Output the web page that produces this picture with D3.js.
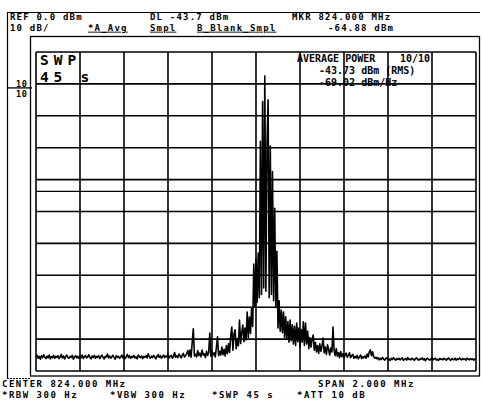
<!DOCTYPE html>
<html><head><meta charset="utf-8">
<script src="https://cdn.jsdelivr.net/npm/d3@7"></script>
<style>
html,body{margin:0;padding:0;background:#fff;}
svg{display:block;}
text{font-family:"DejaVu Sans Mono",monospace;font-weight:bold;fill:#000;}
</style></head><body>
<svg id="c" width="483" height="402"></svg>
<script>
// ---- instrument settings ----
const centerMHz = 824.0;
const spanMHz = 2.0;
const refLevel = 0;
const dbPerDiv = 10;
const numDivs = 10;
const displayLine = -43.7;
const sweepPoints = 401;

// ---- trace (dBm), 401 sweep points from 823.000 to 825.000 MHz ----
const traceLevels = [
-95.6,-95.1,-96.0,-95.4,-96.3,-95.2,-95.8,-94.9,-95.7,-96.1,-95.3,-95.9,-95.0,-96.2,-95.5,-95.8,-95.1,-96.0,-95.4,-95.7,
-95.2,-96.1,-95.6,-94.8,-95.9,-95.3,-96.2,-95.5,-95.0,-95.8,-96.0,-95.4,-95.7,-95.1,-96.3,-95.6,-95.2,-95.9,-95.4,-96.0,
-95.3,-95.8,-95.0,-96.1,-95.5,-95.2,-95.9,-95.6,-94.9,-95.7,-96.2,-95.3,-95.8,-95.1,-96.0,-95.4,-95.7,-95.2,-96.1,-95.5,
-95.0,-95.8,-96.2,-95.4,-95.6,-94.7,-95.9,-95.3,-96.0,-95.5,-95.1,-95.8,-96.3,-95.2,-95.7,-95.4,-96.0,-95.6,-95.0,-95.9,
-95.3,-96.1,-95.5,-94.8,-95.8,-95.2,-96.0,-95.4,-95.7,-95.1,-95.9,-95.6,-96.2,-95.0,-95.5,-95.8,-95.3,-96.1,-95.4,-95.7,
-95.2,-95.9,-94.6,-95.5,-96.0,-95.3,-95.8,-95.1,-95.6,-96.2,-95.4,-94.9,-95.7,-95.2,-96.0,-95.5,-95.0,-95.8,-95.3,-95.6,
-94.8,-95.9,-95.4,-95.1,-96.0,-95.5,-94.2,-95.7,-95.2,-95.8,-94.7,-95.3,-95.9,-95.0,-94.5,-95.6,
-95.2,-94.6,-93.6,-95.4,-93.4,-95.7,-91.0,-86.8,-95.3,-94.8,-95.6,-93.6,-95.2,-94.4,-95.5,-93.4,-95.0,-94.6,-95.8,-93.8,
-95.1,-94.2,-88.1,-95.4,-93.9,-95.0,-94.3,-95.6,-92.6,-89.3,-95.2,-93.8,-95.0,-92.5,-94.9,-93.2,-95.3,-92.0,-94.6,-91.5,
-94.2,-89.0,-86.2,-93.5,-88.4,-87.1,-93.0,-89.8,-92.1,-84.0,-91.4,-88.0,-85.6,-90.8,-86.5,-90.3,-81.5,-89.5,-83.1,-88.2,
-80.3,-86.0,-66.5,-80.0,
-64.88,-78.5,-63.0,-77.0,-28.0,-76.0,-15.5,-74.0,-7.5,-75.0,-29.0,-15.0,-77.0,-29.5,-76.0,-37.5,-78.0,-49.0,-80.0,-62.5,
-86.5,-78.0,-87.5,-81.0,-88.0,-81.5,-89.5,-83.0,-90.0,-84.5,-91.0,-84.0,-90.5,-85.5,-91.5,-86.0,-92.0,-85.0,-90.8,-86.5,
-92.5,-87.0,-91.0,-84.6,-92.0,-85.0,-91.5,-87.5,-93.0,-89.5,-92.5,-90.0,-88.7,-93.5,-91.0,-94.0,-92.0,-94.5,-91.5,-93.8,
-92.2,-89.7,-94.3,-92.5,-94.8,-91.8,-93.2,-95.0,-92.8,-94.0,-86.2,-93.6,-95.2,-93.0,-95.4,-94.2,-95.8,-93.9,-95.5,-94.6,
-95.9,-95.0,-94.4,-95.7,-95.1,-94.3,-95.8,-95.2,-94.8,-96.0,-95.4,-95.9,-95.1,-96.2,-95.6,-95.0,-96.1,-95.5,-95.9,-95.3,
-96.0,-94.7,-95.6,-94.0,-93.4,-95.2,-94.0,-95.5,-96.0,-95.7,
-96.2,-95.8,-96.5,-96.0,-96.4,-95.7,-96.3,-96.6,-96.1,-95.9,-96.5,-96.2,-96.7,-96.0,-96.4,-95.8,-96.3,-96.6,-96.1,-96.4,
-96.0,-96.5,-96.2,-95.9,-96.7,-96.3,-96.1,-96.6,-95.8,-96.4,-96.2,-96.5,-96.0,-96.3,-96.7,-96.1,-95.9,-96.4,-96.6,-96.2,
-96.3,-95.9,-96.5,-96.1,-96.8,-96.2,-96.0,-96.4,-96.6,-96.3,-95.8,-96.5,-96.2,-96.0,-96.6,-96.3,-96.7,-96.1,-96.4,-96.2,
-96.5,-96.0,-96.3,-96.6,-96.2,-95.9,-96.4,-96.7,-96.1,-96.3,-96.5,-96.0,-96.6,-96.2,-96.4,-95.9,-96.3,-96.5,-96.1,-96.4,
-96.2,-96.6,-96.0,-96.3,-96.5,-96.1,-96.4,-96.2,-96.6,-96.3,-96.0
];

// ---- texts ----
const headerLine1 = ["REF 0.0 dBm", "DL -43.7 dBm", "MKR 824.000 MHz"];
const headerLine2 = ["10 dB/", "*A_Avg", "Smpl", "B_Blank_Smpl", "-64.88 dBm"];
const footerLine1 = ["CENTER 824.000 MHz", "SPAN 2.000 MHz"];
const footerLine2 = ["*RBW 300 Hz", "*VBW 300 Hz", "*SWP 45 s", "*ATT 10 dB"];
const powerLines = ["AVERAGE POWER", "10/10", "-43.73 dBm (RMS)", "-69.02 dBm/Hz"];
const sweepLabel = ["SWP", "45 s"];
const scaleMarks = ["10", "10"];

// ---- drawing ----
const svg = d3.select("#c");
const plot = {left: 36, right: 476, top: 52, bottom: 371};
const fStart = centerMHz - spanMHz / 2, fStop = centerMHz + spanMHz / 2;
const x = d3.scaleLinear().domain([fStart, fStop]).range([plot.left, plot.right]);
const bottomLevel = refLevel - dbPerDiv * numDivs;
const y = d3.scaleLinear().domain([refLevel, bottomLevel]).range([plot.top, plot.bottom]);

svg.append("rect").attr("width", 483).attr("height", 402).attr("fill", "#fff");

// frames
const frame = svg.append("g").attr("fill", "none").attr("stroke", "#000");
frame.append("path").attr("d", "M7.5,379 V12.5 H480").attr("stroke-width", 1.2);
frame.append("rect").attr("x", 30.5).attr("y", 36.5).attr("width", 449).attr("height", 339.5).attr("stroke-width", 1.3);
frame.append("line").attr("x1", 7).attr("x2", 30).attr("y1", 378.5).attr("y2", 378.5).attr("stroke-width", 1).attr("stroke-dasharray", "2,1");

// grid
const vTicks = d3.range(0, numDivs + 1).map(k => fStart + k * spanMHz / numDivs);
const hTicks = d3.range(0, numDivs + 1).map(k => refLevel - k * dbPerDiv);
const grid = svg.append("g").attr("stroke", "#000").attr("stroke-width", 1.6);
grid.selectAll(".v").data(vTicks).join("line")
  .attr("x1", d => x(d)).attr("x2", d => x(d)).attr("y1", plot.top).attr("y2", plot.bottom);
grid.selectAll(".h").data(hTicks).join("line")
  .attr("y1", d => y(d)).attr("y2", d => y(d)).attr("x1", plot.left).attr("x2", plot.right);

// display line
svg.append("line").attr("stroke", "#000").attr("stroke-width", 1.3)
  .attr("x1", plot.left).attr("x2", plot.right)
  .attr("y1", y(displayLine)).attr("y2", y(displayLine));

// left scale marker
const markY = y(refLevel - dbPerDiv) + 4;
svg.append("line").attr("stroke", "#000").attr("stroke-width", 1.3)
  .attr("x1", 8).attr("x2", 32).attr("y1", markY).attr("y2", markY);
svg.append("text").attr("x", 16).attr("y", markY - 1).attr("font-size", 8.5).style("letter-spacing", "0.6px").text(scaleMarks[0]);
svg.append("text").attr("x", 16).attr("y", markY + 9).attr("font-size", 8.5).style("letter-spacing", "0.6px").text(scaleMarks[1]);

// trace
const fStep = spanMHz / (sweepPoints - 1);
const line = d3.line().x((d, i) => x(fStart + i * fStep)).y(d => y(d));
svg.append("path").datum(traceLevels).attr("d", line)
  .attr("fill", "none").attr("stroke", "#000").attr("stroke-width", 1.6)
  .attr("stroke-linejoin", "round");

// header
const fs = 9;
const h1 = [10, 150, 292], h2 = [10, 88, 150, 197, 328];
headerLine1.forEach((t, i) => svg.append("text").attr("x", h1[i]).attr("y", 20).attr("font-size", fs)
  .style("letter-spacing", "1.2px").attr("xml:space", "preserve").text(t));
headerLine2.forEach((t, i) => {
  const el = svg.append("text").attr("x", h2[i]).attr("y", 30.7).attr("font-size", fs)
    .style("letter-spacing", "1.2px").text(t);
  if (i >= 1 && i <= 3) el.style("text-decoration", "underline");
});

// footer
const f1 = [2, 318], f2 = [2, 110, 212, 297];
footerLine1.forEach((t, i) => svg.append("text").attr("x", f1[i]).attr("y", 387.4).attr("font-size", 9)
  .style("letter-spacing", "1.5px").text(t));
footerLine2.forEach((t, i) => svg.append("text").attr("x", f2[i]).attr("y", 398).attr("font-size", 9)
  .style("letter-spacing", "1.5px").text(t));

// sweep annotation
svg.append("text").attr("x", 40).attr("y", 65).attr("font-size", 14.5).attr("font-weight", "normal")
  .style("letter-spacing", "5px").text(sweepLabel[0]);
svg.append("text").attr("x", 40).attr("y", 82.2).attr("font-size", 14.5).attr("font-weight", "normal")
  .style("letter-spacing", "4.8px").attr("xml:space", "preserve").text(sweepLabel[1]);

// average power box
const pf = 10;
svg.append("text").attr("x", 297).attr("y", 62).attr("font-size", pf).text(powerLines[0]);
svg.append("text").attr("x", 400).attr("y", 62).attr("font-size", pf).text(powerLines[1]);
svg.append("text").attr("x", 319).attr("y", 74).attr("font-size", pf).attr("xml:space", "preserve").text(powerLines[2]);
svg.append("text").attr("x", 319).attr("y", 86).attr("font-size", pf).text(powerLines[3]);
</script>
</body></html>
